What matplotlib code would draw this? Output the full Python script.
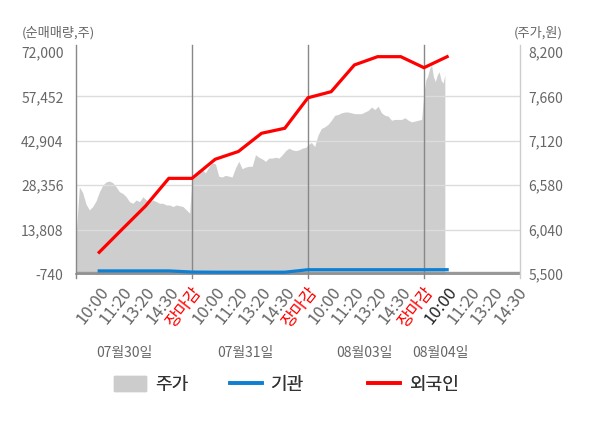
import numpy as np
import matplotlib.pyplot as plt
from matplotlib.patches import Patch
from matplotlib.lines import Line2D

plt.rcParams['font.family'] = ['Noto Sans CJK KR', 'DejaVu Sans']

# x tick labels (one slot per label), dates under each day
tick_labels = ['10:00', '11:20', '13:20', '14:30', '장마감'] * 3 + ['10:00', '11:20', '13:20', '14:30']
dates = ['07월30일', '07월31일', '08월03일', '08월04일']
date_pos = [2.1, 7.3, 12.45, 15.7]

price_d1 = [5950, 6560, 6490, 6350, 6280, 6320, 6390, 6500, 6580, 6620, 6630, 6610, 6560, 6500,
            6480, 6440, 6380, 6360, 6400, 6380, 6440, 6400, 6380, 6400, 6380, 6360, 6360, 6340,
            6340, 6320, 6340, 6330, 6320, 6280, 6240]
price_d2 = [6660, 6700, 6770, 6770, 6730, 6800, 6850, 6840, 6690, 6680, 6700, 6690, 6680, 6790,
            6870, 6780, 6800, 6810, 6810, 6950, 6920, 6900, 6870, 6910, 6910, 6920, 6910, 6950,
            7000, 7030, 7010, 7000, 7010, 7030, 7040]
price_d3 = [7070, 7100, 7050, 7190, 7270, 7290, 7320, 7370, 7430, 7440, 7460, 7470, 7470, 7460,
            7450, 7450, 7450, 7470, 7490, 7530, 7500, 7540, 7460, 7430, 7420, 7370, 7380, 7380,
            7380, 7400, 7370, 7350, 7360, 7370, 7380]
price_d4 = [7700, 7860, 7910, 8000, 8040, 7900, 7840, 7920, 7960, 7860, 7820, 7920]

# cumulative net buying (순매매량, 주) at each tick slot
foreign = [6370, 14000, 21550, 30600, 30600, 36850, 39400, 45370, 47010, 57000, 59000,
           67750, 70470, 70470, 66860, 70470]
inst = [275, 275, 275, 275, -100, -150, -150, -150, -150, 660, 660, 660, 660, 660, 660, 670]

left_min, left_max = -740, 72000
right_min, right_max = 5500, 8200

fig = plt.figure(figsize=(6, 4.28), dpi=100)
ax = fig.add_axes([76 / 600, 1 - 274 / 428, 444 / 600, 222 / 428])
ax2 = ax.twinx()
ax.set_zorder(ax2.get_zorder() + 1)
ax.patch.set_visible(False)
ax2.patch.set_facecolor('#f5f5f5')

xmax = 19.14
# price area
px = np.concatenate([np.linspace(0, 4.9, len(price_d1)),
                     np.linspace(5, 9.9, len(price_d2)),
                     np.linspace(10, 14.9, len(price_d3)),
                     np.linspace(15, 15.9, len(price_d4))])
pv = np.concatenate([price_d1, price_d2, price_d3, price_d4])
ax2.fill_between(px, right_min, pv, color='#cecece', lw=0)
ax2.set_ylim(right_min, right_max)
ax2.set_yticks(np.arange(right_min, right_max + 1, 540))
ax2.set_yticklabels([f'{v:,}' for v in np.arange(right_min, right_max + 1, 540)])

# flows
fx = np.arange(1, len(foreign) + 1)
ax.plot(fx, foreign, color='#ff0000', lw=2.3, solid_joinstyle='miter', zorder=5)
ax.plot(fx, inst, color='#0f7fd2', lw=2.3, zorder=5)
ax.set_ylim(left_min, left_max)
lt = np.arange(left_min, left_max + 1, 14548)
ax.set_yticks(lt)
ax.set_yticklabels([f'{v:,}' for v in lt])
for v in lt[1:-1]:
    ax.axhline(v, color='#dcdcdc', lw=1, zorder=1)
ax.axhline(0, color='#999999', lw=1, zorder=2)
ax.axhline(left_min, color='#888888', lw=1.2, zorder=2, clip_on=False)

ax.set_xlim(0, xmax)
for d in [0, 5, 10, 15]:
    ax.axvline(d, ymin=-0.02, ymax=1.03, color='#888888', lw=1, clip_on=False, zorder=3)
ax.axvline(xmax, ymin=-0.02, ymax=1.03, color='#cccccc', lw=1, clip_on=False, zorder=3)

for a in (ax, ax2):
    for s in a.spines.values():
        s.set_visible(False)

ax.set_xticks(np.arange(1, len(tick_labels) + 1))
ax.set_xticklabels(tick_labels, rotation=52, ha='right', rotation_mode='anchor')
ax.tick_params(axis='x', length=0, pad=7, labelsize=12)
for lab in ax.get_xticklabels():
    t = lab.get_text()
    lab.set_color('#ff0000' if t == '장마감' else '#666666')
ax.get_xticklabels()[15].set_color('#222222')

ax.tick_params(axis='y', length=0, pad=9, labelsize=10, labelcolor='#666666')
ax2.tick_params(axis='y', length=0, pad=6, labelsize=10, labelcolor='#666666')

trans = ax.get_xaxis_transform()
for p, d in zip(date_pos, dates):
    ax.text(p, -0.355, d, transform=trans, ha='center', va='center', fontsize=10, color='#666666')

fig.text(22 / 600, 1 - 33 / 428, '(순매매량,주)', ha='left', va='center', fontsize=9.5, color='#666666')
fig.text(563 / 600, 1 - 33 / 428, '(주가,원)', ha='right', va='center', fontsize=9.5, color='#666666')

# legend: one entry per box so the gaps follow the reference
handles = [Patch(color='#cccccc'),
           Line2D([], [], color='#0f7fd2', lw=2.6),
           Line2D([], [], color='#ff0000', lw=2.6)]
names = ['주가', '기관', '외국인']
leg_x = [114, 230, 368]
for h, n, x in zip(handles, names, leg_x):
    lg = fig.legend([h], [n], loc='center left', bbox_to_anchor=(x / 600, 0.10),
                    frameon=False, fontsize=13, handlelength=1.75, handleheight=0.9,
                    handletextpad=0.5, borderpad=0, borderaxespad=0, labelcolor='#333333')
    fig.add_artist(lg)

fig.savefig('out.png', dpi=100)
